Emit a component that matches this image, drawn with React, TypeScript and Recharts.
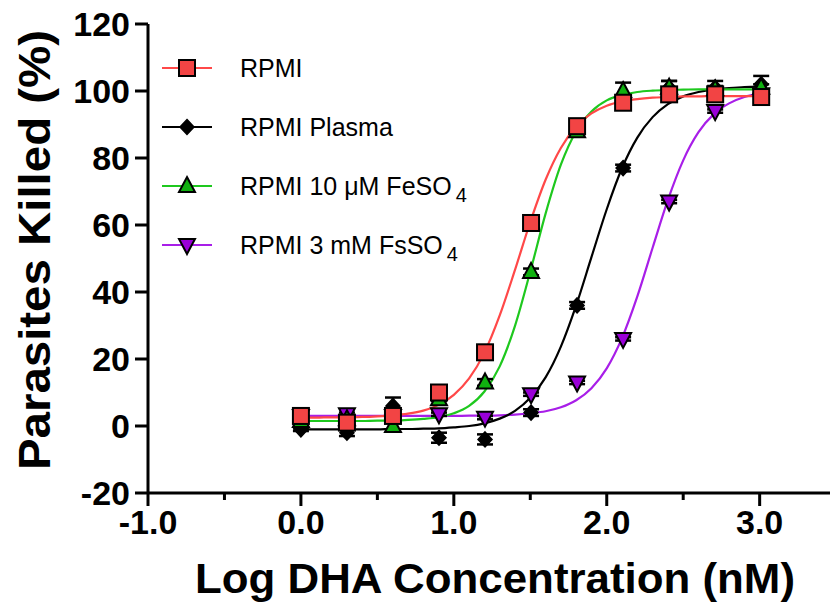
import { ComposedChart, Line, Scatter, XAxis, YAxis, ErrorBar } from 'recharts'

if (typeof document !== 'undefined') document.body.style.margin = '0'

const FONT = '"Liberation Sans", Arial, Helvetica, sans-serif'

// log10 of the DHA dose (nM), doubling dilutions
const doseLog = [0, 0.301, 0.602, 0.903, 1.204, 1.505, 1.806, 2.107, 2.408, 2.709, 3.01]

const rpmiKilled = [3, 1, 3, 10, 22, 60.6, 89.5, 96.5, 99, 99, 98.2]
const plasmaKilled = [-1, -2, 6, -3.5, -4, 4, 36, 77, 101, 101, 102]
const feKilled = [1.5, 2, 0, 8, 13, 46, 88, 100, 101, 100.5, 101]
const fsKilled = [3, 3.5, 3, 3.5, 2.5, 9.5, 13, 26, 67, 94, 99]

// error bars (SEM)
const rpmiErr = [0.5, 0.5, 0.5, 0.5, 0.5, 0.5, 0.5, 0.5, 0.5, 0.5, 0.5]
const plasmaErr = [0.5, 1, 2.5, 1.5, 1.5, 1, 1, 1, 2, 2, 2.5]
const feErr = [0.5, 0.5, 1, 0.5, 1, 1, 1, 2.5, 2, 1, 1]
const fsErr = [0.5, 0.5, 0.5, 0.5, 0.5, 0.5, 0.5, 0.5, 0.5, 0.5, 0.5]

// fitted dose-response curves
const fitX = [0, 0.1, 0.2, 0.3, 0.4, 0.5, 0.6, 0.7, 0.8, 0.9, 1.0, 1.1, 1.2, 1.3, 1.4, 1.5, 1.6, 1.7, 1.8, 1.9, 2.0, 2.1, 2.2, 2.3, 2.4, 2.5, 2.6, 2.7, 2.8, 2.9, 3.0]
const rpmiFit = [2.5, 2.5, 2.6, 2.6, 2.7, 2.9, 3.2, 3.7, 4.6, 6.3, 9.3, 14.2, 21.9, 33.0, 46.6, 60.9, 73.5, 83.0, 89.4, 93.3, 95.6, 96.9, 97.6, 98.0, 98.2, 98.4, 98.4, 98.5, 98.5, 98.5, 98.5]
const plasmaFit = [-1, -1, -1, -1, -1, -1, -0.9, -0.9, -0.8, -0.7, -0.4, 0, 0.8, 2.2, 4.5, 8.4, 14.5, 23.7, 36.0, 50.4, 64.7, 77.0, 86.1, 92.2, 96.1, 98.4, 99.7, 100.5, 100.9, 101.2, 101.3]
const feFit = [1.5, 1.5, 1.5, 1.5, 1.5, 1.6, 1.6, 1.8, 2.1, 2.6, 3.8, 6.0, 10.3, 17.8, 29.9, 46.1, 63.4, 78.0, 88.0, 93.9, 97.2, 98.8, 99.7, 100.1, 100.3, 100.4, 100.5, 100.5, 100.5, 100.5, 100.5]
const fsFit = [3, 3, 3, 3, 3, 3, 3, 3, 3, 3, 3, 3.1, 3.1, 3.2, 3.4, 3.8, 4.4, 5.6, 7.7, 11.3, 17.2, 26.3, 38.7, 53.2, 67.5, 79.3, 87.7, 93.1, 96.3, 98.2, 99.2]

const xTicks = [-1, -0.5, 0, 0.5, 1, 1.5, 2, 2.5, 3]
const yTicks = [-20, 0, 20, 40, 60, 80, 100, 120]

const RED = '#ff4848'
const RED_FILL = '#f24444'
const GREEN = '#1ec81e'
const GREEN_FILL = '#10b010'
const PURPLE = '#a81ee8'
const PURPLE_FILL = '#9a00d8'

const points = (vals: number[], errs: number[]) => doseLog.map((x, i) => ({ x, y: vals[i], e: errs[i] }))
const curve = (vals: number[]) => fitX.map((x, i) => ({ x, y: vals[i] }))

type Mark = 'square' | 'diamond' | 'up' | 'down'

function Marker({ cx, cy, kind, fill }: { cx: number; cy: number; kind: Mark; fill: string }) {
  if (kind === 'square') {
    return <rect x={cx - 8} y={cy - 8} width={16} height={16} fill={fill} stroke="#000" strokeWidth={2} />
  }
  if (kind === 'diamond') {
    return <path d={`M${cx},${cy - 7.5} L${cx + 7},${cy} L${cx},${cy + 7.5} L${cx - 7},${cy} Z`} fill="#000" stroke="#000" strokeWidth={1.5} />
  }
  if (kind === 'up') {
    return <path d={`M${cx},${cy - 9} L${cx + 8},${cy + 6} L${cx - 8},${cy + 6} Z`} fill={fill} stroke="#000" strokeWidth={2} />
  }
  return <path d={`M${cx},${cy + 9} L${cx + 8},${cy - 6} L${cx - 8},${cy - 6} Z`} fill={fill} stroke="#000" strokeWidth={2} />
}

function XTick(props: any) {
  const { x, y, payload } = props
  const v = payload.value as number
  const major = Number.isInteger(v)
  return (
    <g>
      <line x1={x} x2={x} y1={y} y2={y + (major ? 13 : 7)} stroke="#000" strokeWidth={3} />
      {major && (
        <text x={x} y={y + 41} textAnchor="middle" fontSize={34} fontWeight="bold" fontFamily={FONT} fill="#000">
          {v.toFixed(1)}
        </text>
      )}
    </g>
  )
}

function YTick(props: any) {
  const { x, y, payload } = props
  return (
    <g>
      <line x1={x - 13} x2={x} y1={y} y2={y} stroke="#000" strokeWidth={3} />
      <text x={x - 18} y={y + 12} textAnchor="end" fontSize={34} fontWeight="bold" fontFamily={FONT} fill="#000">
        {payload.value}
      </text>
    </g>
  )
}

const legendRows: { label: React.ReactNode; color: string; fill: string; kind: Mark }[] = [
  { label: 'RPMI', color: RED, fill: RED_FILL, kind: 'square' },
  { label: 'RPMI Plasma', color: '#000', fill: '#000', kind: 'diamond' },
  {
    label: (
      <>
        RPMI 10 μM FeSO<tspan dx={4} dy={7} fontSize={20}>4</tspan>
      </>
    ),
    color: GREEN,
    fill: GREEN_FILL,
    kind: 'up',
  },
  {
    label: (
      <>
        RPMI 3 mM FsSO<tspan dx={4} dy={7} fontSize={20}>4</tspan>
      </>
    ),
    color: PURPLE,
    fill: PURPLE_FILL,
    kind: 'down',
  },
]

export default function App() {
  return (
    <div style={{ position: 'relative', width: 830, height: 613, background: '#fff' }}>
      <ComposedChart width={830} height={613} margin={{ top: 24, right: 0, bottom: 0, left: 0 }}>
        <XAxis
          type="number"
          dataKey="x"
          domain={[-1, 3.46]}
          ticks={xTicks}
          allowDataOverflow
          height={120}
          tickSize={0}
          tickMargin={0}
          tickLine={false}
          axisLine={{ stroke: '#000', strokeWidth: 3 }}
          tick={<XTick />}
          interval={0}
        />
        <YAxis
          type="number"
          dataKey="y"
          domain={[-20, 120]}
          ticks={yTicks}
          width={148}
          tickSize={0}
          tickMargin={0}
          tickLine={false}
          axisLine={{ stroke: '#000', strokeWidth: 3 }}
          tick={<YTick />}
          interval={0}
        />

        <Line data={curve(fsFit)} dataKey="y" type="monotone" stroke={PURPLE} strokeWidth={2.2} dot={false} isAnimationActive={false} />
        <Line data={curve(plasmaFit)} dataKey="y" type="monotone" stroke="#000" strokeWidth={2.2} dot={false} isAnimationActive={false} />
        <Line data={curve(feFit)} dataKey="y" type="monotone" stroke={GREEN} strokeWidth={2.2} dot={false} isAnimationActive={false} />
        <Line data={curve(rpmiFit)} dataKey="y" type="monotone" stroke={RED} strokeWidth={2.2} dot={false} isAnimationActive={false} />

        <Scatter data={points(fsKilled, fsErr)} dataKey="y" isAnimationActive={false} shape={(p: any) => <Marker cx={p.cx} cy={p.cy} kind="down" fill={PURPLE_FILL} />}>
          <ErrorBar dataKey="e" direction="y" width={8} stroke="#000" strokeWidth={2.5} />
        </Scatter>
        <Scatter data={points(plasmaKilled, plasmaErr)} dataKey="y" isAnimationActive={false} shape={(p: any) => <Marker cx={p.cx} cy={p.cy} kind="diamond" fill="#000" />}>
          <ErrorBar dataKey="e" direction="y" width={8} stroke="#000" strokeWidth={2.5} />
        </Scatter>
        <Scatter data={points(feKilled, feErr)} dataKey="y" isAnimationActive={false} shape={(p: any) => <Marker cx={p.cx} cy={p.cy} kind="up" fill={GREEN_FILL} />}>
          <ErrorBar dataKey="e" direction="y" width={8} stroke="#000" strokeWidth={2.5} />
        </Scatter>
        <Scatter data={points(rpmiKilled, rpmiErr)} dataKey="y" isAnimationActive={false} shape={(p: any) => <Marker cx={p.cx} cy={p.cy} kind="square" fill={RED_FILL} />}>
          <ErrorBar dataKey="e" direction="y" width={8} stroke="#000" strokeWidth={2.5} />
        </Scatter>
      </ComposedChart>

      <svg width={830} height={613} style={{ position: 'absolute', left: 0, top: 0, pointerEvents: 'none' }}>
        <text x={495} y={593} textAnchor="middle" fontSize={42} fontWeight="bold" fontFamily={FONT} textLength={600} lengthAdjust="spacingAndGlyphs">
          Log DHA Concentration (nM)
        </text>
        <text
          transform="translate(50,250) rotate(-90)"
          textAnchor="middle"
          fontSize={45}
          fontWeight="bold"
          fontFamily={FONT}
          textLength={440}
          lengthAdjust="spacingAndGlyphs"
        >
          Parasites Killed (%)
        </text>
        {legendRows.map((r, i) => {
          const cy = 68 + i * 59
          return (
            <g key={i}>
              <line x1={162} x2={212} y1={cy} y2={cy} stroke={r.color} strokeWidth={2.2} />
              <Marker cx={187} cy={cy} kind={r.kind} fill={r.fill} />
              <text x={240} y={cy + 9} fontSize={25} fontFamily={FONT} fill="#000">
                {r.label}
              </text>
            </g>
          )
        })}
      </svg>
    </div>
  )
}
